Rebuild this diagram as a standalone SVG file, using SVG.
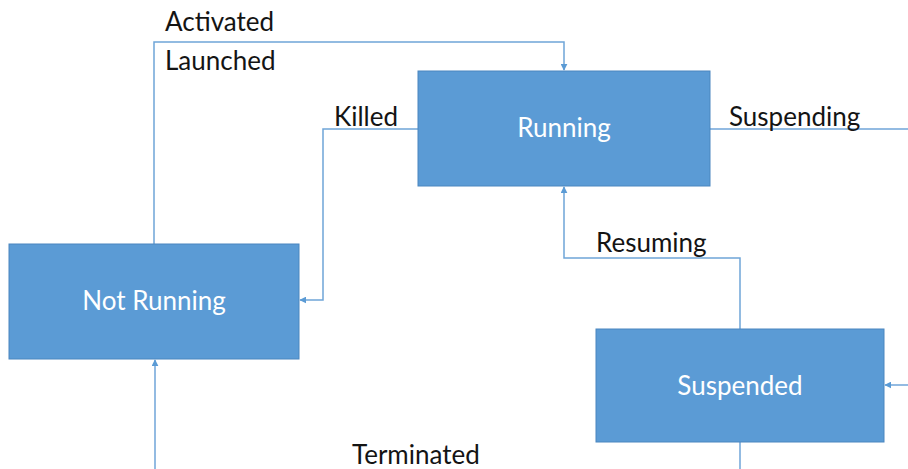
<svg xmlns="http://www.w3.org/2000/svg" width="908" height="469" viewBox="0 0 908 469">
  <style>
    .node rect { fill: #5b9bd5; stroke: #4a86bf; stroke-width: 1; }
    .node text { fill: #ffffff; font-family: Lato, "Open Sans", sans-serif; font-size: 26px; text-anchor: middle; }
    .edge { fill: none; stroke: #6fa5d8; stroke-width: 1.5; }
    .label { fill: #141414; font-family: Lato, "Open Sans", sans-serif; font-size: 26px; }
  </style>
  <defs>
    <marker id="arrow" viewBox="0 0 10 10" refX="9" refY="5" markerWidth="7" markerHeight="7" orient="auto-start-reverse" markerUnits="userSpaceOnUse">
      <path d="M0,0 L10,5 L0,10 z" fill="#5b9bd5"/>
    </marker>
  </defs>
  <rect width="908" height="469" fill="#ffffff"/>

  <g id="connectors">
    <!-- Activated / Launched: Not Running -> Running -->
    <path class="edge" d="M154,244 V42 H564 V70" marker-end="url(#arrow)"/>
    <!-- Killed: Running -> Not Running -->
    <path class="edge" d="M418,129 H323 V300 H300" marker-end="url(#arrow)"/>
    <!-- Suspending: Running -> Suspended (off right) -->
    <path class="edge" d="M710,129 H908"/>
    <path class="edge" d="M908,385 H885" marker-end="url(#arrow)"/>
    <!-- Resuming: Suspended -> Running -->
    <path class="edge" d="M740,329 V258 H564 V187" marker-end="url(#arrow)"/>
    <!-- Terminated -->
    <path class="edge" d="M740,442 V469"/>
    <path class="edge" d="M155,469 V360" marker-end="url(#arrow)"/>
  </g>

  <g id="labels">
    <text class="label" x="165" y="31">Activated</text>
    <text class="label" x="165" y="70">Launched</text>
    <text class="label" x="334" y="126">Killed</text>
    <text class="label" x="729" y="126">Suspending</text>
    <text class="label" x="596" y="252">Resuming</text>
    <text class="label" x="352" y="464">Terminated</text>
  </g>

  <g id="running" class="node">
    <rect x="418" y="71" width="292" height="115"/>
    <text x="564" y="137">Running</text>
  </g>
  <g id="not-running" class="node">
    <rect x="9" y="244" width="290" height="115"/>
    <text x="154" y="310">Not Running</text>
  </g>
  <g id="suspended" class="node">
    <rect x="596" y="329" width="288" height="113"/>
    <text x="740" y="395">Suspended</text>
  </g>
</svg>
